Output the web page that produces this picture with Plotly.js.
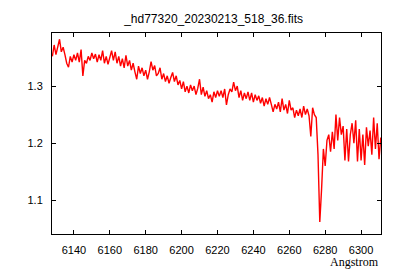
<!DOCTYPE html>
<html>
<head>
<meta charset="utf-8">
<script src="https://cdn.plot.ly/plotly-3.0.1.min.js"></script>
<style>html,body{margin:0;padding:0;background:#fff;}#chart{width:400px;height:280px;}</style>
</head>
<body>
<div id="chart"></div>
<script>
// Spectrum: flux sampled every 1 Angstrom starting at 6128 Angstrom
var chartTitle = "_hd77320_20230213_518_36.fits";
var xLabel = "Angstrom";
var waveStart = 6128;
var waveStep = 1;
var flux = [
  1.352,1.372,1.355,1.368,1.382,1.360,1.368,1.355,1.340,1.333,
  1.352,1.342,1.355,1.345,1.358,1.342,1.364,1.318,1.345,1.340,
  1.352,1.345,1.358,1.348,1.356,1.342,1.355,1.345,1.362,1.340,
  1.352,1.338,1.350,1.362,1.345,1.360,1.340,1.352,1.335,1.348,
  1.332,1.354,1.335,1.345,1.328,1.340,1.325,1.312,1.335,1.322,
  1.332,1.318,1.328,1.312,1.325,1.343,1.328,1.336,1.318,1.322,
  1.332,1.312,1.322,1.308,1.318,1.305,1.315,1.324,1.308,1.318,
  1.302,1.310,1.295,1.308,1.290,1.300,1.288,1.302,1.292,1.300,
  1.285,1.296,1.312,1.285,1.298,1.282,1.292,1.278,1.285,1.272,
  1.290,1.280,1.292,1.282,1.292,1.280,1.295,1.267,1.285,1.295,
  1.290,1.307,1.292,1.300,1.280,1.292,1.275,1.288,1.278,1.290,
  1.275,1.288,1.272,1.285,1.275,1.283,1.270,1.280,1.265,1.278,
  1.268,1.280,1.268,1.255,1.268,1.260,1.272,1.255,1.278,1.258,
  1.268,1.252,1.275,1.258,1.262,1.245,1.258,1.248,1.260,1.245,
  1.265,1.250,1.260,1.248,1.212,1.262,1.250,1.245,1.180,1.062,
  1.120,1.190,1.160,1.205,1.215,1.185,1.220,1.190,1.250,1.205,
  1.245,1.215,1.230,1.170,1.225,1.168,1.215,1.235,1.200,1.240,
  1.168,1.225,1.170,1.215,1.162,1.228,1.195,1.222,1.180,1.245,
  1.190,1.235,1.172,1.210
];
var xRange = [6127.8, 6311.1];
var yRange = [1.041, 1.393];

var trace = {
  type: 'scatter',
  mode: 'lines',
  x0: waveStart,
  dx: waveStep,
  y: flux,
  line: {color: '#ff0000', width: 1.4},
  hoverinfo: 'skip'
};

var axisCommon = {
  showgrid: false,
  zeroline: false,
  showline: true,
  linecolor: '#000',
  linewidth: 1,
  mirror: 'allticks',
  ticks: 'inside',
  ticklen: 4,
  tickcolor: '#000',
  tickfont: {family: 'Liberation Sans, Arial, sans-serif', size: 11, color: '#000'}
};

var layout = {
  width: 400,
  height: 280,
  margin: {l: 52, r: 19, t: 33, b: 46},
  paper_bgcolor: '#fff',
  plot_bgcolor: '#fff',
  showlegend: false,
  title: {
    text: chartTitle,
    font: {family: 'Liberation Sans, Arial, sans-serif', size: 12, color: '#000'},
    xref: 'container', x: 0.534, xanchor: 'center',
    yref: 'container', y: 0.932, yanchor: 'middle'
  },
  xaxis: Object.assign({}, axisCommon, {
    range: xRange,
    tickmode: 'linear', tick0: 6140, dtick: 20,
    ticklabelstandoff: 6
  }),
  yaxis: Object.assign({}, axisCommon, {
    range: yRange,
    tickmode: 'linear', tick0: 1.1, dtick: 0.1,
    tickformat: '.1f',
    ticklabelstandoff: 6
  }),
  annotations: [{
    text: xLabel,
    xref: 'paper', x: 1, xanchor: 'right',
    yref: 'paper', y: -0.139, yanchor: 'middle',
    showarrow: false,
    font: {family: 'Liberation Serif, Times New Roman, serif', size: 12, color: '#000'}
  }]
};

Plotly.newPlot('chart', [trace], layout, {displayModeBar: false, staticPlot: true});
</script>
</body>
</html>
